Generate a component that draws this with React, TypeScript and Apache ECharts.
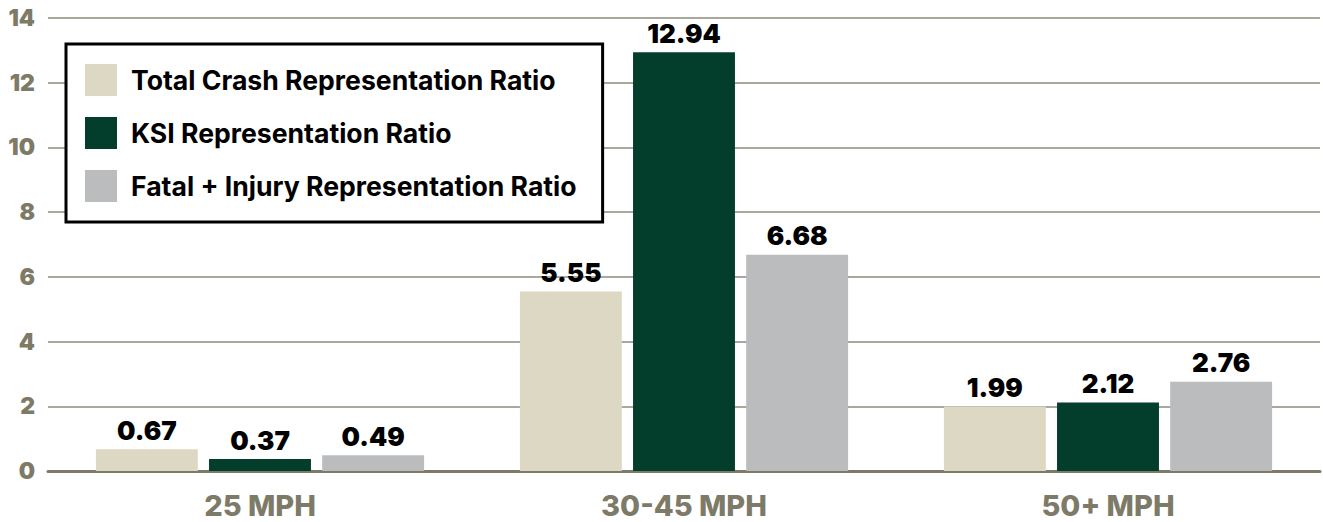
import React, { useEffect, useRef } from "react";
import * as echarts from "echarts";

const categories = ["25 MPH", "30-45 MPH", "50+ MPH"];
const seriesNames = [
  "Total Crash Representation Ratio",
  "KSI Representation Ratio",
  "Fatal + Injury Representation Ratio",
];
const totalCrash = [0.67, 5.55, 1.99];
const ksi = [0.37, 12.94, 2.12];
const fatalInjury = [0.49, 6.68, 2.76];
const colors = ["#ddd8c4", "#033d2c", "#bbbcbe"];

const FONT = "Inter, 'Open Sans', sans-serif";

export default function App() {
  const ref = useRef<HTMLDivElement>(null);
  useEffect(() => {
    if (!ref.current) return;
    const chart = echarts.init(ref.current, undefined, { renderer: "svg" });
    const values = [totalCrash, ksi, fatalInjury];
    chart.setOption({
      animation: false,
      grid: { left: 48, right: 3, top: 18, bottom: 51, containLabel: false },
      legend: {
        orient: "vertical",
        left: 66,
        top: 44,
        itemWidth: 32,
        itemHeight: 32,
        itemGap: 21,
        padding: [20, 26, 20, 19],
        backgroundColor: "#ffffff",
        borderColor: "#000000",
        borderWidth: 3,
        borderRadius: 0,
        icon: "rect",
        textStyle: {
          fontFamily: FONT,
          fontWeight: 700,
          fontSize: 26.6,
          color: "#000000",
          padding: [0, 0, 0, 9],
        },
        data: seriesNames,
      },
      xAxis: {
        type: "category",
        data: categories,
        axisLine: { show: true, lineStyle: { color: "#7d7b68", width: 3 } },
        axisTick: { show: false },
        axisLabel: {
          margin: 20,
          fontFamily: FONT,
          fontWeight: 800,
          fontSize: 29,
          color: "#7d7b68",
        },
      },
      yAxis: {
        type: "value",
        min: 0,
        max: 14,
        interval: 2,
        axisLine: { show: false },
        axisTick: { show: false },
        splitLine: { lineStyle: { color: "#8c8b7a", width: 1.5 } },
        axisLabel: {
          margin: 13,
          fontFamily: FONT,
          fontWeight: 900,
          fontSize: 23,
          color: "#7d7b68",
        },
      },
      series: seriesNames.map((name, i) => ({
        name,
        type: "bar",
        data: values[i],
        barGap: "11%",
        barCategoryGap: "22.6%",
        itemStyle: { color: colors[i] },
        label: {
          show: true,
          position: "top",
          distance: 6,
          fontFamily: FONT,
          fontWeight: 900,
          fontSize: 26,
          color: "#000000",
          formatter: (p: any) => p.value.toFixed(2),
        },
      })),
    });
    return () => chart.dispose();
  }, []);
  return (
    <div
      ref={ref}
      style={{ position: "fixed", left: 0, top: 0, width: 1323, height: 522, background: "#fff" }}
    />
  );
}
